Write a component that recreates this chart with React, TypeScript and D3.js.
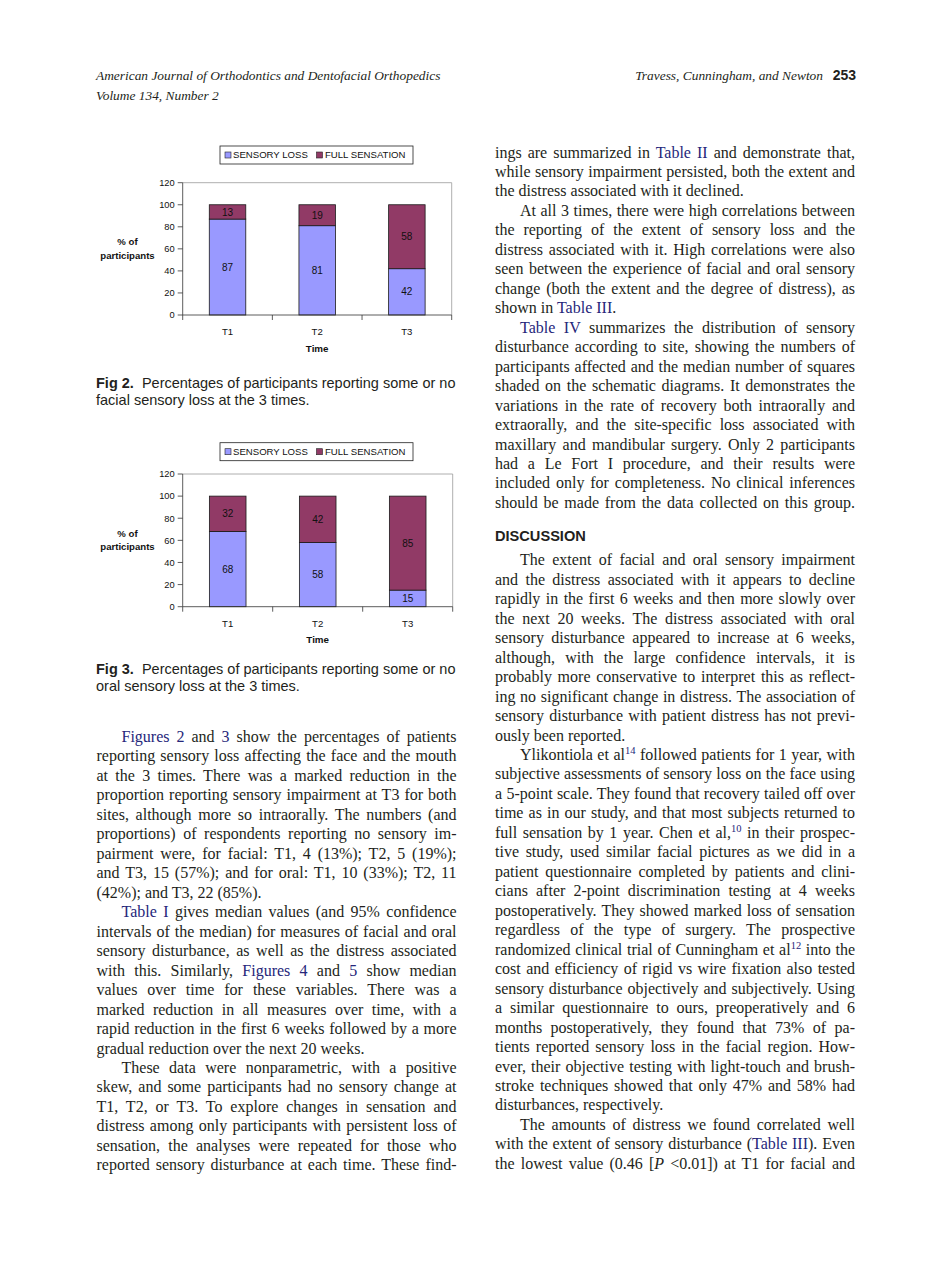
import React, { useLayoutEffect, useRef } from "react";
import * as d3 from "d3";

// ---------- chart data ----------
const categories = ["T1", "T2", "T3"];
const facialSensoryLoss = [87, 81, 42];
const facialFullSensation = [13, 19, 58];
const oralSensoryLoss = [68, 58, 15];
const oralFullSensation = [32, 42, 85];
const yTicks = [0, 20, 40, 60, 80, 100, 120];
const seriesNames = ["SENSORY LOSS", "FULL SENSATION"];
const seriesColors = ["#9999FF", "#913A66"];

// ---------- page text ----------
const headerLeft = ["American Journal of Orthodontics and Dentofacial Orthopedics", "Volume 134, Number 2"];
const headerRight = "Travess, Cunningham, and Newton";
const pageNumber = "253";
const fig2Caption = ["Percentages of participants reporting some or no", "facial sensory loss at the 3 times."];
const fig3Caption = ["Percentages of participants reporting some or no", "oral sensory loss at the 3 times."];

// markup: [link]  {superscript link}  _italic_ ; prefix ">" = paragraph indent ; suffix "|" = last line
const leftColumn = [
  ">[Figures 2] and [3] show the percentages of patients",
  "reporting sensory loss affecting the face and the mouth",
  "at the 3 times. There was a marked reduction in the",
  "proportion reporting sensory impairment at T3 for both",
  "sites, although more so intraorally. The numbers (and",
  "proportions) of respondents reporting no sensory im-",
  "pairment were, for facial: T1, 4 (13%); T2, 5 (19%);",
  "and T3, 15 (57%); and for oral: T1, 10 (33%); T2, 11",
  "(42%); and T3, 22 (85%).|",
  ">[Table I] gives median values (and 95% confidence",
  "intervals of the median) for measures of facial and oral",
  "sensory disturbance, as well as the distress associated",
  "with this. Similarly, [Figures 4] and [5] show median",
  "values over time for these variables. There was a",
  "marked reduction in all measures over time, with a",
  "rapid reduction in the first 6 weeks followed by a more",
  "gradual reduction over the next 20 weeks.|",
  ">These data were nonparametric, with a positive",
  "skew, and some participants had no sensory change at",
  "T1, T2, or T3. To explore changes in sensation and",
  "distress among only participants with persistent loss of",
  "sensation, the analyses were repeated for those who",
  "reported sensory disturbance at each time. These find-",
];

const rightColumnTop = [
  "ings are summarized in [Table II] and demonstrate that,",
  "while sensory impairment persisted, both the extent and",
  "the distress associated with it declined.|",
  ">At all 3 times, there were high correlations between",
  "the reporting of the extent of sensory loss and the",
  "distress associated with it. High correlations were also",
  "seen between the experience of facial and oral sensory",
  "change (both the extent and the degree of distress), as",
  "shown in [Table III].|",
  ">[Table IV] summarizes the distribution of sensory",
  "disturbance according to site, showing the numbers of",
  "participants affected and the median number of squares",
  "shaded on the schematic diagrams. It demonstrates the",
  "variations in the rate of recovery both intraorally and",
  "extraorally, and the site-specific loss associated with",
  "maxillary and mandibular surgery. Only 2 participants",
  "had a Le Fort I procedure, and their results were",
  "included only for completeness. No clinical inferences",
  "should be made from the data collected on this group.",
];

const sectionTitle = "DISCUSSION";

const rightColumnBottom = [
  ">The extent of facial and oral sensory impairment",
  "and the distress associated with it appears to decline",
  "rapidly in the first 6 weeks and then more slowly over",
  "the next 20 weeks. The distress associated with oral",
  "sensory disturbance appeared to increase at 6 weeks,",
  "although, with the large confidence intervals, it is",
  "probably more conservative to interpret this as reflect-",
  "ing no significant change in distress. The association of",
  "sensory disturbance with patient distress has not previ-",
  "ously been reported.|",
  ">Ylikontiola et al{14} followed patients for 1 year, with",
  "subjective assessments of sensory loss on the face using",
  "a 5-point scale. They found that recovery tailed off over",
  "time as in our study, and that most subjects returned to",
  "full sensation by 1 year. Chen et al,{10} in their prospec-",
  "tive study, used similar facial pictures as we did in a",
  "patient questionnaire completed by patients and clini-",
  "cians after 2-point discrimination testing at 4 weeks",
  "postoperatively. They showed marked loss of sensation",
  "regardless of the type of surgery. The prospective",
  "randomized clinical trial of Cunningham et al{12} into the",
  "cost and efficiency of rigid vs wire fixation also tested",
  "sensory disturbance objectively and subjectively. Using",
  "a similar questionnaire to ours, preoperatively and 6",
  "months postoperatively, they found that 73% of pa-",
  "tients reported sensory loss in the facial region. How-",
  "ever, their objective testing with light-touch and brush-",
  "stroke techniques showed that only 47% and 58% had",
  "disturbances, respectively.|",
  ">The amounts of distress we found correlated well",
  "with the extent of sensory disturbance ([Table III]). Even",
  "the lowest value (0.46 [_P_ <0.01]) at T1 for facial and",
];

const SANS = "'Liberation Sans', Arial, Helvetica, sans-serif";
const SERIF = "'Liberation Serif', 'Times New Roman', Times, serif";
const INK = "#231f20";
const LINK = "#25267a";

type Span = { t: string; link: boolean; italic: boolean; sup: boolean };

function parseLine(s: string): Span[] {
  const parts = s.split(/(\[[^\]]+\]|\{[^}]+\}|_[^_]+_)/).filter((p) => p.length);
  const out: Span[] = [];
  parts.forEach((p) => {
    if (p === "[\u0000]") {
      out.push({ t: "[", link: false, italic: false, sup: false });
      out.push({ t: "P", link: false, italic: true, sup: false });
      out.push({ t: " <0.01]", link: false, italic: false, sup: false });
    } else if (p.startsWith("[")) out.push({ t: p.slice(1, -1), link: true, italic: false, sup: false });
    else if (p.startsWith("{")) out.push({ t: p.slice(1, -1), link: true, italic: false, sup: true });
    else if (p.startsWith("_")) out.push({ t: p.slice(1, -1), link: false, italic: true, sup: false });
    else out.push({ t: p, link: false, italic: false, sup: false });
  });
  return out;
}

function TextColumn({ lines, x, y0, width, step }: { lines: string[]; x: number; y0: number; width: number; step: number }) {
  const indent = 25;
  return (
    <g>
      {lines.map((raw, i) => {
        let s = raw;
        const ind = s.startsWith(">");
        if (ind) s = s.slice(1);
        const last = s.endsWith("|");
        if (last) s = s.slice(0, -1);
        s = s.replace("[_P_ <0.01]", "[\u0000]");
        const spans = parseLine(s);
        const lx = x + (ind ? indent : 0);
        const w = width - (ind ? indent : 0);
        let raised = false;
        const children = spans.map((sp, k) => {
          if (sp.sup) {
            raised = true;
            return (
              <tspan key={k} fill={LINK} fontSize={10.5} dy={-6}>{sp.t}</tspan>
            );
          }
          const dy = raised ? 6 : undefined;
          raised = false;
          return (
            <tspan key={k} dy={dy} fill={sp.link ? LINK : undefined} fontStyle={sp.italic ? "italic" : undefined}>{sp.t}</tspan>
          );
        });
        return (
          <text
            key={i}
            x={lx}
            y={y0 + i * step}
            fontFamily={SERIF}
            fontSize={16}
            fill={INK}
            data-jw={last ? undefined : w}
          >
            {children}
          </text>
        );
      })}
    </g>
  );
}

type ChartProps = {
  loss: number[];
  full: number[];
  left: number;
  right: number;
  top: number;
  bottom: number;
  legendTop: number;
};

function StackedChart({ loss, full, left, right, top, bottom, legendTop }: ChartProps) {
  const x = d3.scaleBand<string>().domain(categories).range([left, right]).paddingInner(0.593).paddingOuter(0.2965);
  const y = d3.scaleLinear().domain([0, 120]).range([bottom, top]);
  const rows = categories.map((c, i) => ({ cat: c, loss: loss[i], full: full[i] }));
  const stack = d3.stack<any>().keys(["loss", "full"])(rows);
  const step = x.step();
  const boundaries = d3.range(categories.length + 1).map((i) => left + i * step);
  const legendLeft = 220;
  const legendRight = 413;
  const legendH = 18;
  const ly = legendTop + legendH / 2;
  return (
    <g fontFamily={SANS}>
      {/* legend */}
      <rect x={legendLeft} y={legendTop} width={legendRight - legendLeft} height={legendH} fill="#fff" stroke="#222" strokeWidth={0.8} />
      <rect x={225} y={ly - 3} width={6} height={6} fill={seriesColors[0]} stroke="#222" strokeWidth={0.6} />
      <text x={233} y={ly + 3.4} fontSize={9.6} fill="#111">{seriesNames[0]}</text>
      <rect x={316.5} y={ly - 3} width={6} height={6} fill={seriesColors[1]} stroke="#222" strokeWidth={0.6} />
      <text x={325} y={ly + 3.4} fontSize={9.6} fill="#111">{seriesNames[1]}</text>

      {/* plot frame */}
      <line x1={left} x2={right} y1={top} y2={top} stroke="#9a9a9a" strokeWidth={0.8} />
      <line x1={right} x2={right} y1={top} y2={bottom} stroke="#9a9a9a" strokeWidth={0.8} />

      {/* bars */}
      {stack.map((layer, li) =>
        layer.map((d: any, di: number) => (
          <rect
            key={li + "-" + di}
            x={x(categories[di])}
            y={y(d[1])}
            width={x.bandwidth()}
            height={y(d[0]) - y(d[1])}
            fill={seriesColors[li]}
            stroke="#1a1a1a"
            strokeWidth={0.8}
          />
        ))
      )}
      {stack.map((layer, li) =>
        layer.map((d: any, di: number) => (
          <text
            key={"l" + li + "-" + di}
            x={(x(categories[di]) as number) + x.bandwidth() / 2}
            y={(y(d[0]) + y(d[1])) / 2 + 3.6}
            textAnchor="middle"
            fontSize={10}
            fill="#111"
          >
            {d[1] - d[0]}
          </text>
        ))
      )}

      {/* y axis */}
      <line x1={left} x2={left} y1={top} y2={bottom} stroke="#333" strokeWidth={0.8} />
      {yTicks.map((t) => (
        <g key={t}>
          <line x1={left - 5} x2={left} y1={y(t)} y2={y(t)} stroke="#333" strokeWidth={0.8} />
          <text x={left - 8} y={y(t) + 3.3} textAnchor="end" fontSize={9.3} fill="#111">{t}</text>
        </g>
      ))}
      {/* x axis */}
      <line x1={left} x2={right} y1={bottom} y2={bottom} stroke="#333" strokeWidth={0.8} />
      {boundaries.map((b, i) => (
        <line key={i} x1={b} x2={b} y1={bottom} y2={bottom + 5} stroke="#333" strokeWidth={0.8} />
      ))}
      {categories.map((c) => (
        <text key={c} x={(x(c) as number) + x.bandwidth() / 2} y={bottom + 20} textAnchor="middle" fontSize={9.6} fill="#111">{c}</text>
      ))}
      <text x={(left + right) / 2} y={bottom + 36.5} textAnchor="middle" fontSize={9.8} fontWeight="bold" fill="#111">Time</text>
      <text x={127.5} y={(top + bottom) / 2 - 3.5} textAnchor="middle" fontSize={9.6} fontWeight="bold" fill="#111">% of</text>
      <text x={127.5} y={(top + bottom) / 2 + 10} textAnchor="middle" fontSize={9.6} fontWeight="bold" fill="#111">participants</text>
    </g>
  );
}

function Caption({ label, lines, x, y }: { label: string; lines: string[]; x: number; y: number }) {
  return (
    <g fontFamily={SANS} fontSize={14.5} fill={INK}>
      <text x={x} y={y} style={{ whiteSpace: "pre" }}>
        <tspan fontWeight="bold">{label}</tspan>
        <tspan>{"  " + lines[0]}</tspan>
      </text>
      <text x={x} y={y + 17}>{lines[1]}</text>
    </g>
  );
}

export default function App() {
  const ref = useRef<SVGSVGElement>(null);
  useLayoutEffect(() => {
    const justify = () => {
      const svg = ref.current;
      if (!svg) return;
      svg.querySelectorAll("text[data-jw]").forEach((node) => {
        const el = node as SVGTextElement;
        const target = +(el.getAttribute("data-jw") || 0);
        el.style.wordSpacing = "0px";
        const nat = el.getComputedTextLength();
        const spaces = ((el.textContent || "").match(/ /g) || []).length;
        if (spaces > 0) el.style.wordSpacing = (target - nat) / spaces + "px";
      });
    };
    justify();
    if ((document as any).fonts && (document as any).fonts.ready) (document as any).fonts.ready.then(justify);
  }, []);

  const step = 19.47;
  return (
    <svg
      ref={ref}
      width={950}
      height={1272}
      viewBox="0 0 950 1272"
      style={{ position: "absolute", left: 0, top: 0, background: "#fff" }}
    >
      <rect x={0} y={0} width={950} height={1272} fill="#fff" />
      {/* running header */}
      <g fontFamily={SERIF} fontStyle="italic" fontSize={13.4} fill={INK}>
        <text x={96} y={80}>{headerLeft[0]}</text>
        <text x={96} y={100}>{headerLeft[1]}</text>
        <text x={823} y={80} textAnchor="end">{headerRight}</text>
      </g>
      <text x={856} y={80} textAnchor="end" fontFamily={SANS} fontWeight="bold" fontSize={14} fill={INK}>{pageNumber}</text>

      <StackedChart loss={facialSensoryLoss} full={facialFullSensation} left={182.7} right={451.7} top={182.7} bottom={315} legendTop={146} />
      <Caption label="Fig 2." lines={fig2Caption} x={96} y={388} />

      <StackedChart loss={oralSensoryLoss} full={oralFullSensation} left={182.7} right={452.7} top={474} bottom={606.7} legendTop={442.7} />
      <Caption label="Fig 3." lines={fig3Caption} x={96} y={674} />

      <TextColumn lines={leftColumn} x={96.5} y0={742} width={360} step={step} />
      <TextColumn lines={rightColumnTop} x={495} y0={157.5} width={360} step={step} />
      <text x={495} y={540.5} fontFamily={SANS} fontWeight="bold" fontSize={14.6} fill={INK}>{sectionTitle}</text>
      <TextColumn lines={rightColumnBottom} x={495} y0={565.3} width={360} step={step} />
    </svg>
  );
}
